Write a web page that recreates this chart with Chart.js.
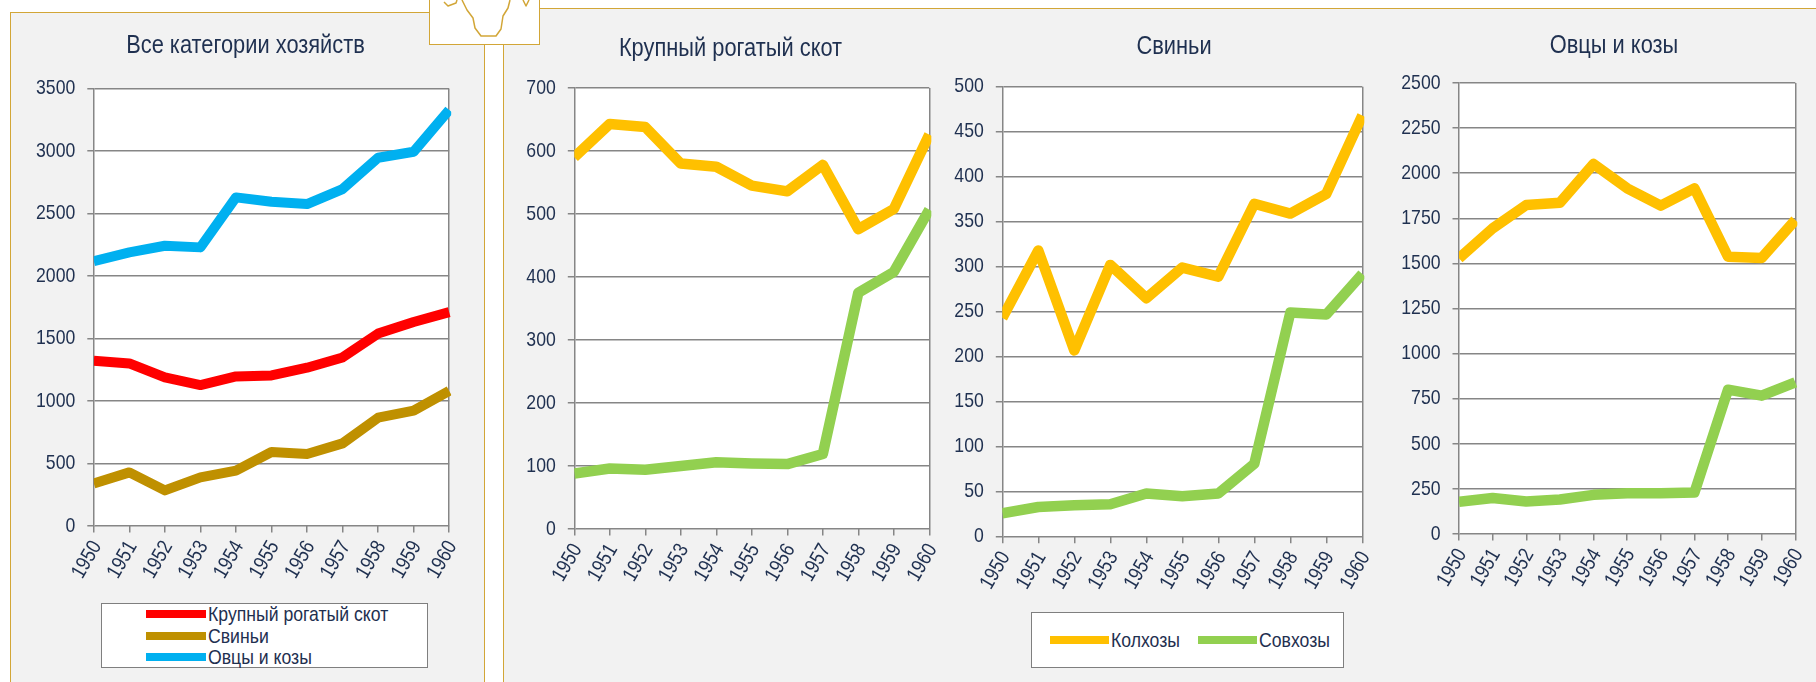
<!DOCTYPE html>
<html lang="ru">
<head>
<meta charset="utf-8">
<title>Поголовье скота</title>
<script src="https://cdn.jsdelivr.net/npm/chart.js@4"></script>
<style>
html,body{margin:0;padding:0;background:#fff;width:1816px;height:682px;overflow:hidden;font-family:"Liberation Sans",Arial,sans-serif;color:#1f3050}
.panel{position:absolute;background:#f2f2f2;border:1.5px solid #d2a637;box-sizing:border-box}
.icon{position:absolute;left:429px;top:-2px;width:111px;height:47px;background:#fff;border:1.5px solid #d2a637;box-sizing:border-box;overflow:hidden;z-index:3}
canvas{position:absolute;z-index:2}
.wrap{position:absolute;z-index:2}
.legend{position:absolute;background:#fff;border:1.5px solid #7f7f7f;box-sizing:border-box;z-index:2}
.item{position:absolute;display:flex;align-items:center;font-size:21px;white-space:nowrap;height:20px;line-height:20px}
.swatch{display:inline-block;height:8px;margin-right:2px;flex:none}
.label{display:inline-block;transform:scaleX(.84);transform-origin:left center}
</style>
</head>
<body>
<div class="panel" style="left:10px;top:12px;width:475px;height:690px"></div>
<div class="panel" style="left:503px;top:8px;width:1340px;height:700px"></div>
<div class="icon"><svg width="111" height="47" viewBox="429 -2 111 47" xmlns="http://www.w3.org/2000/svg"><g fill="none" stroke="#d2a637" stroke-width="1.5" stroke-linejoin="round"><path d="M461 -1 L466 9 L472 17 L474 27 L480 35 L495 35 L500 28 L502 15 L507 7 L509 -1"/><path d="M443 1 L447 5 L455 2 L456 -1"/><path d="M522 -1 L525 5 L528 -1"/></g></svg></div>
<div class="wrap" style="left:16px;top:0;width:459px;height:600px"><canvas id="c1" width="459" height="600"></canvas></div>
<div class="wrap" style="left:501px;top:0;width:459px;height:600px"><canvas id="c2" width="459" height="600"></canvas></div>
<div class="wrap" style="left:935px;top:0;width:478px;height:600px"><canvas id="c3" width="478" height="600"></canvas></div>
<div class="wrap" style="left:1398px;top:0;width:432px;height:600px"><canvas id="c4" width="432" height="600"></canvas></div>
<div class="legend" id="leg1" style="left:101px;top:603px;width:327px;height:65px"></div>
<div class="legend" id="leg2" style="left:1031px;top:612px;width:313px;height:56px"></div>
<script>
const years = ['1950','1951','1952','1953','1954','1955','1956','1957','1958','1959','1960'];

const titleAll = 'Все категории хозяйств';
const titleCattle = 'Крупный рогатый скот';
const titlePigs = 'Свиньи';
const titleSheep = 'Овцы и козы';
const nameKolkhoz = 'Колхозы';
const nameSovkhoz = 'Совхозы';

const allCattle = [1323,1301,1189,1128,1197,1205,1267,1349,1540,1633,1712];
const allPigs   = [341,429,285,389,443,592,576,661,867,923,1082];
const allSheep  = [2120,2190,2243,2230,2630,2595,2577,2697,2947,2995,3330];

const cattleKolkhoz = [590,643,638,580,575,545,536,578,476,508,626];
const cattleSovkhoz = [88,96,94,100,106,104,103,119,375,408,507];

const pigsKolkhoz = [243,318,207,302,265,299,289,370,359,381,468];
const pigsSovkhoz = [26,33,35,36,48,45,48,81,249,247,292];

const sheepKolkhoz = [1528,1694,1824,1836,2051,1916,1820,1916,1537,1530,1740];
const sheepSovkhoz = [178,200,180,191,217,226,226,230,800,767,841];

const RED='#ff0000', BROWN='#bf9000', BLUE='#00b0f0', ORANGE='#ffc000', GREEN='#92d050';
const INK='#1f3050', GRID='#868686', FONT='"Liberation Sans", Arial, sans-serif';
const NARROW=.84;

// Reference type is a condensed sans: draw each canvas label narrowed around its own anchor.
const proto=CanvasRenderingContext2D.prototype, rawFill=proto.fillText;
proto.fillText=function(t,x,y,m){
  this.save(); this.translate(x,y); this.scale(NARROW,1);
  rawFill.call(this,t,0,0,m); this.restore();
};

const plotBg = { id:'plotBg', beforeDraw(c){ const a=c.chartArea, x=c.ctx; x.save(); x.fillStyle='#fff'; x.fillRect(a.left,a.top,a.right-a.left,a.bottom-a.top); x.restore(); } };
// Centre each title on its canvas rather than on the padded layout box.
const titleSpan = { id:'titleSpan', afterLayout(c){ c.titleBlock.left=0; c.titleBlock.right=c.width; } };

function series(label,data,color,width){
  return {label,data,borderColor:color,backgroundColor:color,borderWidth:width,pointRadius:0,tension:0,
    borderJoinStyle:'round',borderCapStyle:'butt',clip:{left:0,right:2,top:10,bottom:10}};
}

function make(id,title,sets,o){
  return new Chart(document.getElementById(id),{
    type:'line',
    data:{labels:years,datasets:sets},
    plugins:[plotBg,titleSpan],
    options:{
      responsive:false,animation:false,
      layout:{padding:{left:0,top:0,bottom:0,right:o.w-(o.right-o.x)}},
      plugins:{
        legend:{display:false},tooltip:{enabled:false},
        title:{display:true,text:title,color:INK,font:{family:FONT,size:26,weight:'normal',lineHeight:1.2},
          padding:{top:o.ty-15.6,bottom:o.top-o.ty-15.6}}
      },
      scales:{
        x:{type:'category',offset:false,
          afterFit(s){s.height=600-o.bottom;},
          border:{display:false},
          grid:{drawOnChartArea:true,drawTicks:true,tickLength:6.5,tickColor:GRID,lineWidth:1.5,
            color:(c)=>c.index===years.length-1?GRID:'rgba(0,0,0,0)'},
          ticks:{autoSkip:false,minRotation:60,maxRotation:60,color:INK,font:{family:FONT,size:21},padding:4,labelOffset:3}
        },
        y:{min:0,max:o.max,
          afterFit(s){s.width=o.left-o.x;},
          border:{display:true,color:GRID,width:1.5},
          grid:{color:GRID,lineWidth:1.5,tickLength:6.5},
          ticks:{stepSize:o.step,color:INK,font:{family:FONT,size:21},padding:12,callback:(v)=>String(v)}
        }
      }
    }
  });
}

const c1=make('c1',titleAll,[series(titleCattle,allCattle,RED,10),series(titlePigs,allPigs,BROWN,10),series(titleSheep,allSheep,BLUE,10)],
  {x:16,w:459,left:93.8,right:449.3,top:88.7,bottom:526,ty:46,max:3500,step:500});
const c2=make('c2',titleCattle,[series(nameKolkhoz,cattleKolkhoz,ORANGE,10.5),series(nameSovkhoz,cattleSovkhoz,GREEN,10.5)],
  {x:501,w:459,left:574.3,right:929.3,top:88,bottom:529,ty:49,max:700,step:100});
const c3=make('c3',titlePigs,[series(nameKolkhoz,pigsKolkhoz,ORANGE,10.5),series(nameSovkhoz,pigsSovkhoz,GREEN,10.5)],
  {x:935,w:478,left:1002.3,right:1362.3,top:86.7,bottom:536.7,ty:47,max:500,step:50});
const c4=make('c4',titleSheep,[series(nameKolkhoz,sheepKolkhoz,ORANGE,10.5),series(nameSovkhoz,sheepSovkhoz,GREEN,10.5)],
  {x:1398,w:432,left:1459,right:1795.3,top:83,bottom:534,ty:46,max:2500,step:250});

function legend(el,chart,spots,swatchW){
  chart.data.datasets.forEach((d,i)=>{
    const it=document.createElement('div'); it.className='item';
    it.style.left=spots[i][0]+'px'; it.style.top=spots[i][1]+'px';
    const sw=document.createElement('span'); sw.className='swatch'; sw.style.width=swatchW+'px'; sw.style.background=d.borderColor;
    const tx=document.createElement('span'); tx.className='label'; tx.textContent=d.label;
    it.append(sw,tx); el.appendChild(it);
  });
}
legend(document.getElementById('leg1'),c1,[[44,0],[44,22],[44,43]],60);
legend(document.getElementById('leg2'),c3,[[18,17],[166,17]],59);
</script>
</body>
</html>
